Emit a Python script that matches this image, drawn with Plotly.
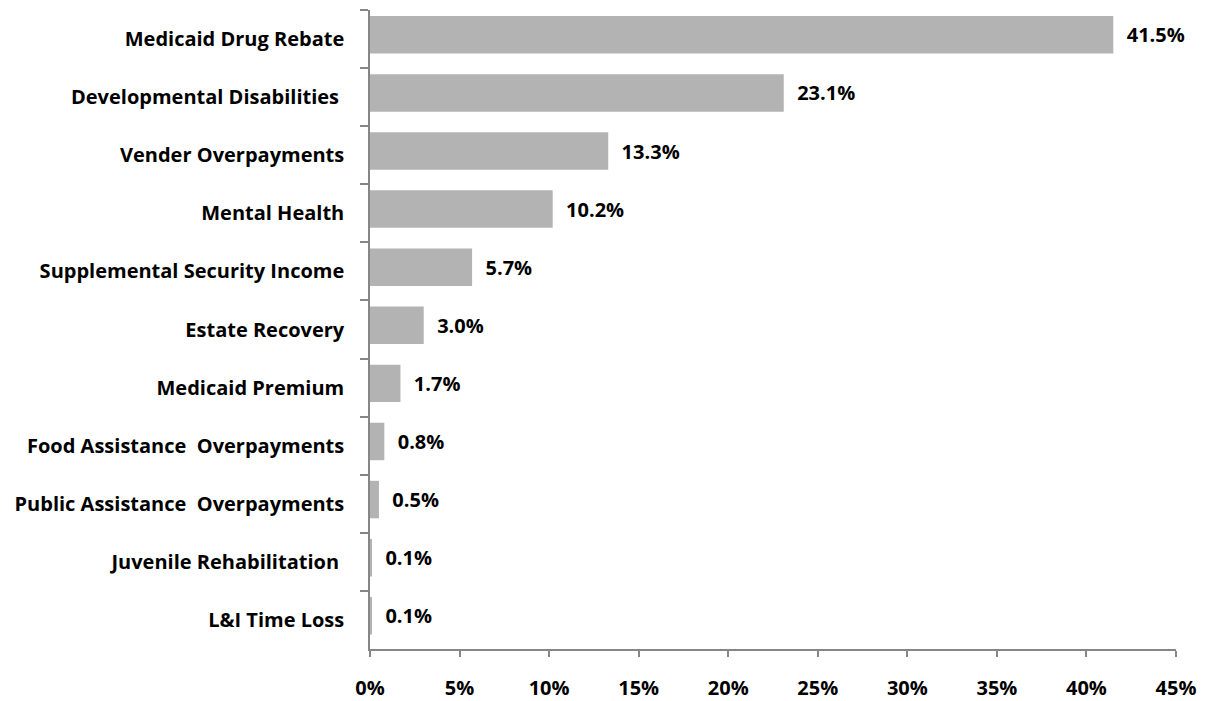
import plotly.graph_objects as go

categories = ["Medicaid Drug Rebate", "Developmental Disabilities ", "Vender Overpayments",
              "Mental Health", "Supplemental Security Income", "Estate Recovery",
              "Medicaid Premium", "Food Assistance  Overpayments",
              "Public Assistance  Overpayments", "Juvenile Rehabilitation ", "L&I Time Loss"]
values = [41.5, 23.1, 13.3, 10.2, 5.7, 3.0, 1.7, 0.8, 0.5, 0.1, 0.1]
labels = ["41.5%", "23.1%", "13.3%", "10.2%", "5.7%", "3.0%", "1.7%", "0.8%", "0.5%", "0.1%", "0.1%"]
xticks = [0, 5, 10, 15, 20, 25, 30, 35, 40, 45]
xticklabels = ["0%", "5%", "10%", "15%", "20%", "25%", "30%", "35%", "40%", "45%"]

font_family = "'Open Sans', sans-serif"
fsize = 20

fig = go.Figure(go.Bar(
    x=values, y=categories, orientation="h",
    width=0.645, offset=-0.395,
    marker=dict(color="#b3b3b3", line=dict(width=0)),
    text=labels, texttemplate="\u00a0\u00a0%{text}", textposition="outside", cliponaxis=False,
    textfont=dict(family=font_family, size=fsize, color="#000000", weight="bold"),
))

# page body has an 8px margin, so the figure is offset by 8px
fig.update_layout(
    width=1198, height=693,
    margin=dict(l=362, r=30, t=2, b=52, autoexpand=False),
    plot_bgcolor="white", paper_bgcolor="white",
    showlegend=False,
    font=dict(family=font_family, size=fsize, color="#000000", weight="bold"),
)
fig.update_xaxes(range=[0, 45], tickvals=xticks, ticktext=xticklabels, automargin=False,
                 showgrid=False, zeroline=False, showline=True, linecolor="#868686", linewidth=1.5,
                 ticks="outside", ticklen=6, tickcolor="#868686", tickwidth=1.5,
                 ticklabelstandoff=14,
                 tickfont=dict(family=font_family, size=fsize, color="#000000", weight="bold"))
fig.update_yaxes(autorange="reversed", type="category", tickson="boundaries", automargin=False,
                 showgrid=False, showline=True, linecolor="#868686", linewidth=1.5,
                 ticks="outside", ticklen=8, tickcolor="#868686", tickwidth=1.5,
                 ticklabelstandoff=20,
                 tickfont=dict(family=font_family, size=fsize, color="#000000", weight="bold"))

fig.write_html("out.html")
